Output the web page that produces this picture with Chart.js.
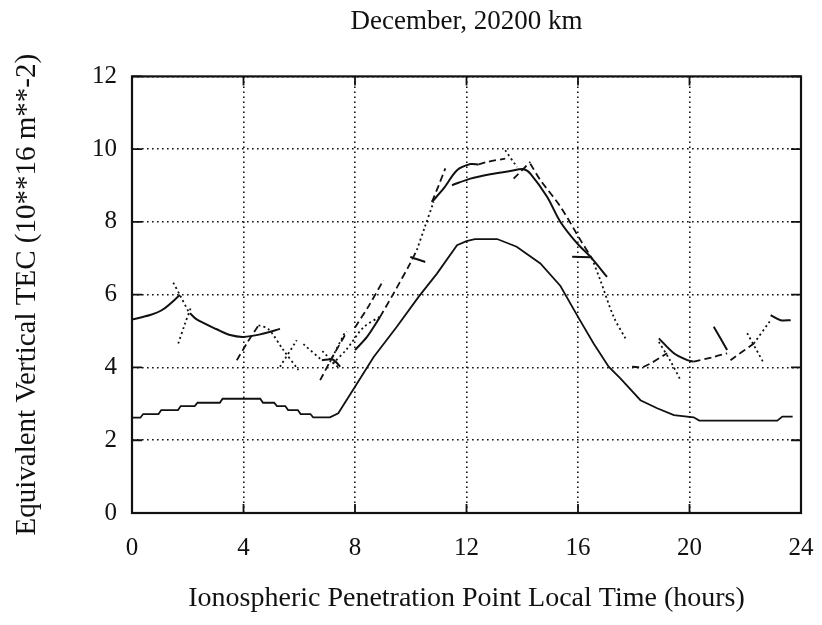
<!DOCTYPE html>
<html>
<head>
<meta charset="utf-8">
<title>December, 20200 km</title>
<script src="https://cdn.jsdelivr.net/npm/chart.js@4.4.1/dist/chart.umd.min.js"></script>
<style>
  html, body { margin: 0; padding: 0; background: #fff; }
  #tecChart { display: block; }
</style>
</head>
<body>
<canvas id="tecChart" width="822" height="625"></canvas>
<script>
// titles and tick labels
const chartTitle = 'December, 20200 km';
const xAxisTitle = 'Ionospheric Penetration Point Local Time (hours)';
const yAxisTitle = 'Equivalent Vertical TEC (10**16 m**-2)';
const hourTicks = [0, 4, 8, 12, 16, 20, 24];
const tecTicks = [0, 2, 4, 6, 8, 10, 12];

// model curve (solid, lower)
const modelHours = [0, 0.3, 0.4, 0.95, 1.05, 1.65, 1.75, 2.25, 2.35, 3.15, 3.25, 4.6, 4.7, 5.1, 5.2, 5.5, 5.6, 5.95, 6.05, 6.4, 6.5, 7.1, 7.4, 8.0, 8.67, 9.5, 10.28, 10.94, 11.66, 12.0, 12.3, 13.1, 13.8, 14.65, 15.37, 16.0, 16.56, 17.1, 17.52, 18.24, 18.84, 19.44, 20.15, 20.35, 23.15, 23.33, 23.7];
const modelTec = [2.62, 2.62, 2.72, 2.72, 2.83, 2.83, 2.94, 2.94, 3.03, 3.03, 3.14, 3.14, 3.03, 3.03, 2.94, 2.94, 2.83, 2.83, 2.72, 2.72, 2.63, 2.63, 2.74, 3.47, 4.29, 5.12, 5.94, 6.58, 7.36, 7.47, 7.53, 7.53, 7.32, 6.86, 6.24, 5.39, 4.66, 4.02, 3.7, 3.1, 2.88, 2.69, 2.63, 2.54, 2.54, 2.65, 2.65];

// measured pass fragments: [hour, TEC]
const pass01 = [[0, 5.32], [0.65, 5.44], [1.12, 5.6], [1.72, 5.99]];
const pass02 = [[1.48, 6.33], [1.72, 5.99], [2.05, 5.5]];
const pass03 = [[1.66, 4.66], [1.9, 5.2], [2.1, 5.62]];
const pass04 = [[2.08, 5.49], [2.32, 5.32], [3.04, 5.05], [3.52, 4.89], [4.0, 4.84], [4.6, 4.91], [5.31, 5.06]];
const pass05 = [[3.76, 4.2], [4.15, 4.7], [4.54, 5.16]];
const pass06 = [[4.54, 5.16], [4.9, 5.05], [5.43, 4.48], [5.97, 3.93]];
const pass07 = [[5.31, 4.02], [5.91, 4.75]];
const pass08 = [[6.15, 4.64], [6.81, 4.2]];
const pass09 = [[6.81, 4.2], [7.2, 4.22], [7.47, 4.02]];
const pass10 = [[6.75, 3.65], [7.2, 4.3], [7.71, 4.98]];
const pass11 = [[6.83, 4.45], [7.4, 4.0]];
const pass12 = [[8.0, 4.48], [8.43, 4.84], [8.9, 5.39]];
const pass13 = [[7.1, 4.15], [7.65, 4.98]];
const pass14 = [[7.2, 4.1], [7.7, 4.5], [8.3, 5.1], [8.9, 5.4]];
const pass15 = [[8.0, 5.1], [8.5, 5.7], [9.02, 6.4]];
const pass16 = [[8.9, 5.39], [9.38, 6.03], [9.98, 6.86], [10.22, 7.23]];
const pass17 = [[10.22, 7.23], [10.5, 7.85], [10.82, 8.55]];
const pass18 = [[9.98, 7.04], [10.2, 6.98], [10.52, 6.9]];
const pass19 = [[10.76, 8.55], [11.0, 9.0], [11.24, 9.47]];
const pass20 = [[10.76, 8.55], [11.18, 8.92], [11.66, 9.42], [12.14, 9.59], [12.43, 9.58]];
const pass21 = [[12.43, 9.58], [12.74, 9.65], [13.39, 9.74]];
const pass22 = [[11.48, 9.01], [12.14, 9.19], [12.85, 9.31], [13.57, 9.4], [14.05, 9.45], [14.29, 9.33], [14.89, 8.69], [15.37, 8.0], [15.97, 7.41], [16.45, 7.04], [17.04, 6.49]];
const pass23 = [[13.39, 9.97], [13.81, 9.51]];
const pass24 = [[14.29, 9.6], [14.65, 9.15], [15.37, 8.42], [16.09, 7.5], [16.5, 7.0]];
const pass25 = [[16.5, 7.0], [16.8, 6.4], [17.28, 5.39], [17.7, 4.8]];
const pass26 = [[13.69, 9.19], [14.29, 9.65]];
const pass27 = [[15.79, 7.04], [16.45, 7.03]];
const pass28 = [[17.94, 4.02], [18.36, 4.02], [19.2, 4.39]];
const pass29 = [[18.9, 4.8], [19.44, 4.39], [19.92, 4.2], [20.15, 4.16]];
const pass30 = [[20.15, 4.16], [20.87, 4.29], [21.35, 4.39]];
const pass31 = [[18.9, 4.7], [19.3, 4.2], [19.68, 3.65]];
const pass32 = [[20.87, 5.12], [21.35, 4.48]];
const pass33 = [[21.47, 4.2], [22.31, 4.66]];
const pass34 = [[22.31, 4.66], [22.91, 5.3]];
const pass35 = [[22.07, 4.94], [22.67, 4.11]];
const pass36 = [[22.91, 5.44], [23.27, 5.3], [23.63, 5.3]];

// line style for each fragment
const dashes = { solid: [], dash: [7, 4], dot: [2, 3] };
const passList = [
    [pass01, 'solid'], [pass02, 'dot'], [pass03, 'dot'], [pass04, 'solid'],
    [pass05, 'dash'], [pass06, 'dot'], [pass07, 'dot'], [pass08, 'dot'],
    [pass09, 'solid'], [pass10, 'dash'], [pass11, 'dot'], [pass12, 'solid'],
    [pass13, 'dot'], [pass14, 'dot'], [pass15, 'dash'], [pass16, 'dash'],
    [pass17, 'dot'], [pass18, 'solid'], [pass19, 'dash'], [pass20, 'solid'],
    [pass21, 'dash'], [pass22, 'solid'], [pass23, 'dot'], [pass24, 'dash'],
    [pass25, 'dot'], [pass26, 'dash'], [pass27, 'solid'], [pass28, 'dash'],
    [pass29, 'solid'], [pass30, 'dash'], [pass31, 'dot'], [pass32, 'solid'],
    [pass33, 'dash'], [pass34, 'dot'], [pass35, 'dot'], [pass36, 'solid']
];

const ink = '#111111';
const serif = "'Liberation Serif', 'Times New Roman', serif";

function lineSet(points, style, width) {
    return {
        data: points.map(p => ({ x: p[0], y: p[1] })),
        borderColor: ink,
        borderWidth: width,
        borderDash: dashes[style],
        pointRadius: 0,
        tension: 0.3,
        fill: false
    };
}

const datasets = [];
const model = lineSet(modelHours.map((h, i) => [h, modelTec[i]]), 'solid', 1.8);
model.tension = 0;
datasets.push(model);
passList.forEach(([pts, style]) => datasets.push(lineSet(pts, style, style === 'solid' ? 2 : 1.8)));

// solid frame plus short inward tick marks
const framePlugin = {
    id: 'frame',
    afterDatasetsDraw(chart) {
        const { ctx, chartArea: a, scales: { x, y } } = chart;
        ctx.save();
        ctx.strokeStyle = ink;
        ctx.setLineDash([]);
        ctx.lineWidth = 2.2;
        ctx.strokeRect(a.left, a.top, a.right - a.left, a.bottom - a.top);
        ctx.lineWidth = 1.8;
        ctx.beginPath();
        x.ticks.forEach(t => {
            const px = x.getPixelForValue(t.value);
            ctx.moveTo(px, a.bottom); ctx.lineTo(px, a.bottom - 9);
            ctx.moveTo(px, a.top); ctx.lineTo(px, a.top + 9);
        });
        y.ticks.forEach(t => {
            const py = y.getPixelForValue(t.value);
            ctx.moveTo(a.left, py); ctx.lineTo(a.left + 10, py);
            ctx.moveTo(a.right, py); ctx.lineTo(a.right - 10, py);
        });
        ctx.stroke();
        ctx.restore();
    }
};

new Chart(document.getElementById('tecChart'), {
    type: 'line',
    data: { datasets: datasets },
    options: {
        responsive: false,
        animation: false,
        layout: { padding: { left: 0, right: 21, top: 0, bottom: 0 } },
        plugins: {
            legend: { display: false },
            tooltip: { enabled: false },
            title: {
                display: true,
                text: chartTitle,
                fullSize: false,
                color: ink,
                font: { family: serif, size: 27, weight: 'normal' },
                padding: { top: 6, bottom: 38 }
            }
        },
        scales: {
            x: {
                type: 'linear',
                min: 0,
                max: 24,
                afterBuildTicks: s => { s.ticks = hourTicks.map(v => ({ value: v })); },
                afterFit: s => { s.height = 112; s.paddingLeft = 0; s.paddingRight = 0; },
                ticks: { color: ink, padding: 20, font: { family: serif, size: 25 } },
                grid: { color: ink, lineWidth: 1.6, drawTicks: false },
                border: { display: false, dash: [1.6, 3.4] },
                title: {
                    display: true,
                    text: xAxisTitle,
                    color: ink,
                    font: { family: serif, size: 28 },
                    padding: { top: 0, bottom: 10 }
                }
            },
            y: {
                type: 'linear',
                min: 0,
                max: 12,
                afterBuildTicks: s => { s.ticks = tecTicks.map(v => ({ value: v })); },
                afterFit: s => { s.width = 132; },
                ticks: { color: ink, padding: 15, font: { family: serif, size: 25 } },
                grid: { color: ink, lineWidth: 1.6, drawTicks: false },
                border: { display: false, dash: [1.6, 3.4] },
                title: {
                    display: true,
                    text: yAxisTitle,
                    color: ink,
                    font: { family: serif, size: 29 },
                    padding: { top: 10, bottom: 0 }
                }
            }
        }
    },
    plugins: [framePlugin]
});
</script>
</body>
</html>
